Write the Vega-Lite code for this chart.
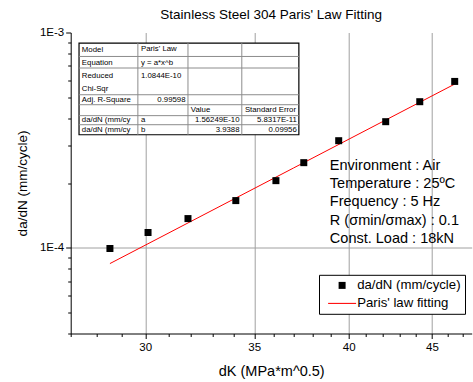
{
  "$schema": "https://vega.github.io/schema/vega-lite/v6.json",
  "width": 401,
  "height": 301,
  "autosize": {"type": "none"},
  "padding": {"left": 70.7, "top": 32.5, "right": 1.3, "bottom": 48.5},
  "background": "white",
  "title": {"text": "Stainless Steel 304 Paris' Law Fitting", "font": "Liberation Sans", "fontSize": 13.5, "fontWeight": "normal", "color": "black", "anchor": "middle", "offset": 5},
  "config": {
    "font": "Liberation Sans",
    "view": {"stroke": null},
    "axis": {"domainColor": "black", "tickColor": "black", "labelColor": "black", "titleColor": "black", "labelFont": "Liberation Sans", "titleFont": "Liberation Sans", "titleFontWeight": "normal", "labelFontSize": 11.5, "gridColor": "#a0a0a0", "gridWidth": 1, "labelOverlap": false, "labelFlush": false}
  },
  "datasets": {
    "pts": [
      {"series": "da/dN (mm/cycle)", "dK": 28.54, "dadN": 0.0000993},
      {"series": "da/dN (mm/cycle)", "dK": 30.12, "dadN": 0.0001178},
      {"series": "da/dN (mm/cycle)", "dK": 31.87, "dadN": 0.0001367},
      {"series": "da/dN (mm/cycle)", "dK": 34.10, "dadN": 0.0001657},
      {"series": "da/dN (mm/cycle)", "dK": 36.09, "dadN": 0.0002051},
      {"series": "da/dN (mm/cycle)", "dK": 37.54, "dadN": 0.0002486},
      {"series": "da/dN (mm/cycle)", "dK": 39.44, "dadN": 0.0003144},
      {"series": "da/dN (mm/cycle)", "dK": 42.15, "dadN": 0.0003853},
      {"series": "da/dN (mm/cycle)", "dK": 44.23, "dadN": 0.0004771},
      {"series": "da/dN (mm/cycle)", "dK": 46.47, "dadN": 0.0005926}
    ],
    "fit": [
      {"dK": 28.54, "dadN": 0.0000845},
      {"dK": 37.0, "dadN": 0.0002348},
      {"dK": 46.47, "dadN": 0.000576}
    ],
    "box": [{"x1": 27.32, "x2": 37.28, "y1": 0.000893, "y2": 0.000335}],
    "hlines": [
      {"y": 0.000774}, {"y": 0.000684}, {"y": 0.000514}, {"y": 0.000462}, {"y": 0.000411}, {"y": 0.000373}
    ],
    "vlines": [{"x": 29.69}, {"x": 31.87}, {"x": 34.39}],
    "tleft": [
      {"t": "Model", "x": 27.43, "y": 0.000831},
      {"t": "Paris' Law", "x": 29.82, "y": 0.000836},
      {"t": "Equation", "x": 27.43, "y": 0.000721},
      {"t": "y = a*x^b", "x": 29.82, "y": 0.000721},
      {"t": "Reduced", "x": 27.43, "y": 0.000625},
      {"t": "Chi-Sqr", "x": 27.43, "y": 0.000548},
      {"t": "1.0844E-10", "x": 29.82, "y": 0.000625},
      {"t": "Adj. R-Square", "x": 27.43, "y": 0.000487},
      {"t": "Value", "x": 32.0, "y": 0.000435},
      {"t": "Standard Error", "x": 34.54, "y": 0.000435},
      {"t": "da/dN (mm/cy", "x": 27.43, "y": 0.000394},
      {"t": "a", "x": 29.82, "y": 0.000394},
      {"t": "da/dN (mm/cy", "x": 27.43, "y": 0.000354},
      {"t": "b", "x": 29.82, "y": 0.000354}
    ],
    "tright": [
      {"t": "0.99598", "x": 31.76, "y": 0.000487},
      {"t": "1.56249E-10", "x": 34.28, "y": 0.000394},
      {"t": "5.8317E-11", "x": 37.17, "y": 0.000394},
      {"t": "3.9388", "x": 34.28, "y": 0.000354},
      {"t": "0.09956", "x": 37.17, "y": 0.000354}
    ],
    "env": [{"x": 38.95, "y": 0.000259, "t": "Environment : Air\nTemperature : 25ºC\nFrequency : 5 Hz\nR (σmin/σmax) : 0.1\nConst. Load : 18kN"}]
  },
  "layer": [
    {
      "data": {"name": "pts"},
      "mark": {"type": "point", "opacity": 0},
      "encoding": {
        "x": {"field": "dK", "type": "quantitative", "title": "dK (MPa*m^0.5)",
          "scale": {"type": "log", "domain": [27, 47.6], "nice": false, "zero": false},
          "axis": {"values": [27,28,29,30,31,32,33,34,35,36,37,38,39,40,41,42,43,44,45,46,47],
            "labelExpr": "datum.value % 5 == 0 ? datum.value + '' : ''",
            "tickSize": {"condition": {"test": "datum.value % 5 == 0", "value": 5}, "value": 3},
            "gridOpacity": {"condition": {"test": "datum.value % 5 == 0", "value": 1}, "value": 0},
            "grid": true, "labelPadding": 3, "titleFontSize": 14.5, "titlePadding": 11}},
        "y": {"field": "dadN", "type": "quantitative", "title": "da/dN (mm/cycle)",
          "scale": {"type": "log", "domain": [0.00004, 0.001], "nice": false, "zero": false},
          "axis": {"values": [0.00004,0.00005,0.00006,0.00007,0.00008,0.00009,0.0001,0.0002,0.0003,0.0004,0.0005,0.0006,0.0007,0.0008,0.0009,0.001],
            "labelExpr": "datum.value == 0.001 ? '1E-3' : (datum.value == 0.0001 ? '1E-4' : '')",
            "tickSize": {"condition": {"test": "datum.value == 0.001 || datum.value == 0.0001", "value": 5}, "value": 3},
            "gridOpacity": {"condition": {"test": "datum.value == 0.0001", "value": 1}, "value": 0},
            "grid": true, "labelPadding": 2, "titleFontSize": 13.5, "titlePadding": 10}}
      }
    },
    {
      "mark": {"type": "rule", "color": "#333333", "strokeWidth": 1},
      "encoding": {"y": {"datum": 0.001, "type": "quantitative"}}
    },
    {
      "data": {"name": "env"},
      "mark": {"type": "text", "align": "left", "baseline": "top", "lineBreak": "\n", "lineHeight": 18.3, "fontSize": 14.5, "font": "Liberation Sans", "color": "black"},
      "encoding": {
        "x": {"field": "x", "type": "quantitative"},
        "y": {"field": "y", "type": "quantitative"},
        "text": {"field": "t", "type": "nominal"}
      }
    },
    {
      "data": {"name": "box"},
      "mark": {"type": "rect", "fill": "white", "stroke": "black", "strokeWidth": 1.2},
      "encoding": {
        "x": {"field": "x1", "type": "quantitative"},
        "x2": {"field": "x2"},
        "y": {"field": "y1", "type": "quantitative"},
        "y2": {"field": "y2"}
      }
    },
    {
      "data": {"name": "hlines"},
      "mark": {"type": "rule", "color": "#8c8c8c", "strokeWidth": 1},
      "encoding": {
        "y": {"field": "y", "type": "quantitative"},
        "x": {"datum": 27.32, "type": "quantitative"},
        "x2": {"datum": 37.28}
      }
    },
    {
      "data": {"name": "vlines"},
      "mark": {"type": "rule", "color": "#8c8c8c", "strokeWidth": 1},
      "encoding": {
        "x": {"field": "x", "type": "quantitative"},
        "y": {"datum": 0.000893, "type": "quantitative"},
        "y2": {"datum": 0.000335}
      }
    },
    {
      "data": {"name": "tleft"},
      "mark": {"type": "text", "align": "left", "baseline": "middle", "fontSize": 7.8, "font": "Liberation Sans", "color": "black"},
      "encoding": {
        "x": {"field": "x", "type": "quantitative"},
        "y": {"field": "y", "type": "quantitative"},
        "text": {"field": "t", "type": "nominal"}
      }
    },
    {
      "data": {"name": "tright"},
      "mark": {"type": "text", "align": "right", "baseline": "middle", "fontSize": 7.8, "font": "Liberation Sans", "color": "black"},
      "encoding": {
        "x": {"field": "x", "type": "quantitative"},
        "y": {"field": "y", "type": "quantitative"},
        "text": {"field": "t", "type": "nominal"}
      }
    },
    {
      "data": {"name": "fit"},
      "mark": {"type": "line", "strokeWidth": 1, "color": "red"},
      "encoding": {
        "x": {"field": "dK", "type": "quantitative"},
        "y": {"field": "dadN", "type": "quantitative"}
      }
    },
    {
      "data": {"name": "pts"},
      "mark": {"type": "point", "filled": true, "size": 49, "opacity": 1},
      "encoding": {
        "x": {"field": "dK", "type": "quantitative"},
        "y": {"field": "dadN", "type": "quantitative"},
        "color": {"field": "series", "type": "nominal",
          "scale": {"domain": ["da/dN (mm/cycle)", "Paris' law fitting"], "range": ["black", "red"]},
          "legend": {"orient": "none", "legendX": 248.3, "legendY": 242.3, "title": null,
            "padding": 4, "strokeColor": "black", "fillColor": "white",
            "labelFont": "Liberation Sans", "labelFontSize": 13.2, "labelColor": "black", "labelLimit": 300,
            "symbolSize": 49, "symbolOffset": 12.5, "labelOffset": 8.5, "rowPadding": 4, "symbolStrokeWidth": 0}},
        "shape": {"field": "series", "type": "nominal",
          "scale": {"domain": ["da/dN (mm/cycle)", "Paris' law fitting"], "range": ["square", "M-4,-0.15H4V0.15H-4Z"]},
          "legend": {"orient": "none", "legendX": 248.3, "legendY": 242.3, "title": null,
            "padding": 4, "strokeColor": "black", "fillColor": "white",
            "labelFont": "Liberation Sans", "labelFontSize": 13.2, "labelColor": "black", "labelLimit": 300,
            "symbolSize": 49, "symbolOffset": 12.5, "labelOffset": 8.5, "rowPadding": 4, "symbolStrokeWidth": 0}}
      }
    }
  ]
}
